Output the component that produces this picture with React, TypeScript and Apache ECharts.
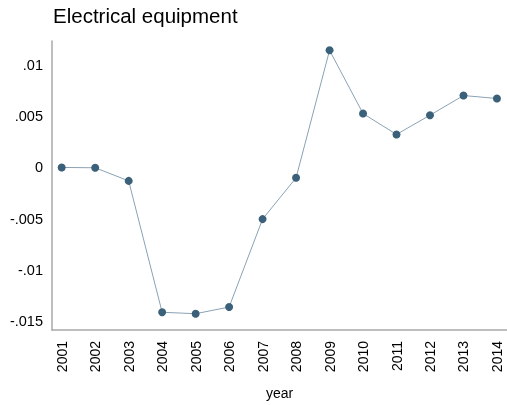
import React, { useEffect, useRef } from "react";
import * as echarts from "echarts";

// Yearly values for the electrical equipment series
const years = [2001, 2002, 2003, 2004, 2005, 2006, 2007, 2008, 2009, 2010, 2011, 2012, 2013, 2014];
const values = [0.0, -0.00003, -0.00131, -0.01413, -0.01427, -0.01362, -0.00504, -0.00101, 0.01143, 0.00526, 0.00322, 0.0051, 0.00702, 0.00673];
const yTicks = [-0.015, -0.01, -0.005, 0, 0.005, 0.01];

const fmtY = (v: number) => {
  if (Math.abs(v) < 1e-12) return "0";
  const s = String(Math.round(v * 1000) / 1000);
  return s.replace("0.", ".");
};

export default function App() {
  const ref = useRef<HTMLDivElement>(null);
  useEffect(() => {
    if (!ref.current) return;
    const chart = echarts.init(ref.current, undefined, { renderer: "svg" });
    const font = "Liberation Sans, Arial, sans-serif";
    chart.setOption({
      animation: false,
      textStyle: { fontFamily: font },
      title: {
        text: "Electrical equipment",
        left: 48,
        top: 0,
        textStyle: { fontFamily: font, fontSize: 20.5, fontWeight: "normal", color: "#000" },
      },
      grid: { left: 52, top: 41, right: -3, bottom: 75, containLabel: false },
      xAxis: {
        type: "value",
        min: 2000.71,
        max: 2014.3,
        name: "year",
        nameLocation: "middle",
        nameGap: 56,
        nameTextStyle: { fontFamily: font, fontSize: 14, color: "#000" },
        axisLine: { show: true, onZero: false, lineStyle: { color: "#a8a8a8", width: 1.5 } },
        axisTick: { show: false },
        splitLine: { show: false },
        axisLabel: {
          customValues: years,
          rotate: 90,
          margin: 11,
          fontSize: 14,
          color: "#000",
          fontFamily: font,
          formatter: (v: number) => String(v),
        },
      },
      yAxis: {
        type: "value",
        min: -0.01586,
        max: 0.01234,
        axisLine: { show: true, onZero: false, lineStyle: { color: "#a8a8a8", width: 1.5 } },
        axisTick: { show: false },
        splitLine: { show: false },
        axisLabel: {
          customValues: yTicks,
          margin: 9,
          fontSize: 14.5,
          color: "#000",
          fontFamily: font,
          formatter: (v: number) => fmtY(v),
        },
      },
      series: [
        {
          type: "line",
          data: years.map((y, i) => [y, values[i]]),
          symbol: "circle",
          symbolSize: 8,
          itemStyle: { color: "#3b6079" },
          lineStyle: { color: "#8aa2b4", width: 1 },
        },
      ],
    });
    return () => chart.dispose();
  }, []);
  return (
    <div
      ref={ref}
      style={{ position: "fixed", left: 0, top: 0, width: 507, height: 405 }}
    />
  );
}
